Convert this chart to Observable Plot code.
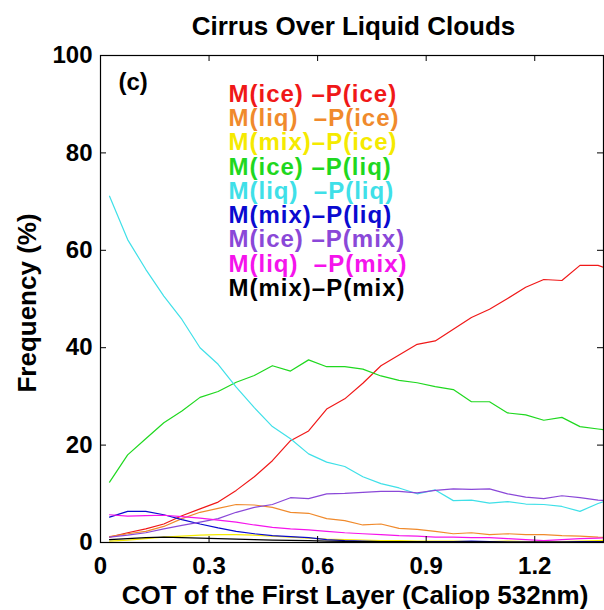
<!DOCTYPE html>
<html>
<head>
<meta charset="utf-8">
<script src="https://cdn.jsdelivr.net/npm/d3@7"></script>
<script src="https://cdn.jsdelivr.net/npm/@observablehq/plot@0.6"></script>
<style>
  html, body { margin: 0; padding: 0; background: #fff; }
  svg text { white-space: pre; }
</style>
</head>
<body>
<div id="chart"></div>
<script>
// ---- data ----
const title = "Cirrus Over Liquid Clouds";
const xLabel = "COT of the First Layer (Caliop 532nm)";
const yLabel = "Frequency (%)";
const panelTag = "(c)";

const xTicks = [0, 0.3, 0.6, 0.9, 1.2];
const xTickLabels = ["0", "0.3", "0.6", "0.9", "1.2"];
const yTicks = [0, 20, 40, 60, 80, 100];
const yTickLabels = ["0", "20", "40", "60", "80", "100"];

// COT bin centres
const cot = [0.025, 0.075, 0.125, 0.175, 0.225, 0.275, 0.325, 0.375, 0.425, 0.475,
             0.525, 0.575, 0.625, 0.675, 0.725, 0.775, 0.825, 0.875, 0.925, 0.975,
             1.025, 1.075, 1.125, 1.175, 1.225, 1.275, 1.325, 1.375, 1.425];

const seriesNames = ["M(ice) –P(ice)", "M(liq)  –P(ice)", "M(mix)–P(ice)",
                     "M(ice) –P(liq)", "M(liq)  –P(liq)", "M(mix)–P(liq)",
                     "M(ice) –P(mix)", "M(liq)  –P(mix)", "M(mix)–P(mix)"];
const seriesColors = ["#f01818", "#f08a2c", "#f5ea00",
                      "#1fd81f", "#3fe0e8", "#0a0ad0",
                      "#8a48d8", "#f514ec", "#000000"];

const iceIce = [1.1, 2.0, 2.8, 3.8, 5.5, 6.9, 8.3, 10.7, 13.5, 16.8, 20.9, 22.9, 27.4, 29.5, 32.7, 36.3, 38.5, 40.7, 41.4, 43.8, 46.2, 47.9, 50.1, 52.4, 54.0, 53.8, 56.9, 56.9, 55.6];
const liqIce = [1.2, 1.8, 2.3, 3.3, 4.9, 6.2, 7.0, 7.8, 7.7, 7.2, 6.2, 6.0, 4.9, 4.5, 3.6, 3.8, 2.9, 2.7, 2.3, 1.8, 2.0, 1.6, 1.8, 1.6, 1.6, 1.4, 1.3, 1.1, 1.0];
const mixIce = [0.3, 0.5, 0.8, 1.1, 1.3, 1.5, 1.6, 1.6, 1.5, 1.3, 1.1, 0.9, 0.7, 0.6, 0.5, 0.4, 0.4, 0.3, 0.3, 0.3, 0.2, 0.2, 0.3, 0.2, 0.2, 0.2, 0.3, 0.4, 0.5];
const iceLiq = [12.4, 18.0, 21.3, 24.6, 27.0, 29.8, 31.0, 32.9, 34.3, 36.3, 35.2, 37.5, 36.1, 36.1, 35.6, 34.2, 33.3, 32.8, 32.0, 31.4, 28.9, 28.9, 26.6, 26.2, 25.1, 25.7, 23.8, 23.3, 22.8];
const liqLiq = [71.1, 62.2, 56.1, 50.6, 45.8, 40.0, 36.6, 31.9, 27.7, 23.8, 21.3, 18.2, 16.5, 15.6, 13.5, 12.1, 11.2, 10.0, 10.8, 8.6, 8.7, 8.1, 8.4, 7.9, 7.8, 7.4, 6.4, 8.0, 9.3];
const mixLiq = [5.2, 6.4, 6.4, 5.7, 4.7, 3.8, 3.0, 2.3, 1.8, 1.4, 1.2, 1.0, 0.6, 0.4, 0.3, 0.2, 0.2, 0.1, 0.2, 0.2, 0.3, 0.2, 0.1, 0.1, 0.1, 0.1, 0.2, 0.2, 0.2];
const iceMix = [1.1, 1.5, 2.0, 2.8, 3.5, 4.2, 4.9, 6.2, 7.2, 7.8, 9.2, 9.0, 10.0, 10.1, 10.3, 10.5, 10.5, 10.2, 10.7, 11.0, 10.9, 11.0, 10.0, 9.3, 9.0, 9.6, 9.2, 8.7, 8.5];
const liqMix = [5.7, 5.4, 5.5, 5.6, 5.3, 5.0, 4.6, 4.2, 3.6, 3.1, 2.8, 2.6, 2.3, 2.0, 1.8, 1.6, 1.4, 1.3, 1.1, 1.1, 1.0, 1.0, 0.8, 0.6, 0.4, 0.6, 0.8, 0.9, 1.0];
const mixMix = [0.6, 0.8, 1.0, 1.1, 1.0, 0.9, 0.8, 0.7, 0.6, 0.5, 0.45, 0.4, 0.3, 0.25, 0.2, 0.2, 0.2, 0.2, 0.15, 0.15, 0.15, 0.15, 0.1, 0.1, 0.1, 0.1, 0.1, 0.1, 0.1];

const seriesValues = [iceIce, liqIce, mixIce, iceLiq, liqLiq, mixLiq, iceMix, liqMix, mixMix];

// ---- build table ----
const rows = [];
seriesValues.forEach((vals, s) => {
  vals.forEach((v, i) => rows.push({series: seriesNames[s], color: seriesColors[s], x: cot[i], v}));
});

// ---- layout ----
const W = 604, H = 610;
const mt = 55, mb = 68, ml = 100, mr = 1;
const plotW = W - ml - mr, plotH = H - mt - mb;
const tickLen = 6;

const legendMarks = seriesNames.map((name, i) =>
  Plot.text([name], {
    frameAnchor: "top-left", dx: 128, dy: 38.5 + i * 24.3,
    textAnchor: "start", lineAnchor: "middle",
    fill: seriesColors[i], fontSize: 24, fontWeight: "bold"
  })
);

const chart = Plot.plot({
  width: W, height: H,
  marginTop: mt, marginBottom: mb, marginLeft: ml, marginRight: mr,
  style: {fontFamily: "'Liberation Sans', Arial, Helvetica, sans-serif", fontWeight: "bold", fontSize: "24px", background: "#fff", color: "#000", overflow: "visible"},
  x: {domain: [0, 1.39]},
  y: {domain: [0, 100]},
  color: {type: "identity"},
  marks: [
    Plot.line(rows, {x: "x", y: "v", z: "series", stroke: "color", strokeWidth: 1.2, clip: true}),
    Plot.frame({stroke: "#000", strokeWidth: 1.2}),
    // inward ticks on all four sides
    Plot.tickX(xTicks, {x: d => d, insetTop: plotH - tickLen, stroke: "#000"}),
    Plot.tickX(xTicks, {x: d => d, insetBottom: plotH - tickLen, stroke: "#000"}),
    Plot.tickY(yTicks, {y: d => d, insetRight: plotW - tickLen, stroke: "#000"}),
    Plot.tickY(yTicks, {y: d => d, insetLeft: plotW - tickLen, stroke: "#000"}),
    Plot.axisX({ticks: xTicks, tickSize: 0, tickPadding: 14, label: null,
      tickFormat: d => xTickLabels[xTicks.indexOf(d)], fontSize: 24, fontWeight: "bold"}),
    Plot.axisY({ticks: yTicks, tickSize: 0, tickPadding: 8, label: null,
      tickFormat: d => yTickLabels[yTicks.indexOf(d)], fontSize: 24, fontWeight: "bold"}),
    Plot.text([title], {frameAnchor: "top", lineAnchor: "middle", textAnchor: "middle", dy: -29, dx: 1.5, fontSize: 26, fontWeight: "bold"}),
    Plot.text([xLabel], {frameAnchor: "bottom", lineAnchor: "middle", textAnchor: "middle", dy: 53, dx: 3, fontSize: 26, fontWeight: "bold"}),
    Plot.text([yLabel], {frameAnchor: "left", lineAnchor: "middle", textAnchor: "middle", dx: -73, dy: 4, rotate: -90, fontSize: 26, fontWeight: "bold"}),
    Plot.text([panelTag], {frameAnchor: "top-left", lineAnchor: "middle", textAnchor: "start", dx: 18, dy: 27, fontSize: 24, fontWeight: "bold"}),
    ...legendMarks
  ]
});

// slightly wider tracking for the legend entries, as in the reference
d3.select(chart).selectAll("text")
  .filter(function() { return seriesNames.includes(this.textContent); })
  .style("letter-spacing", "1px");

document.getElementById("chart").appendChild(chart);
</script>
</body>
</html>
